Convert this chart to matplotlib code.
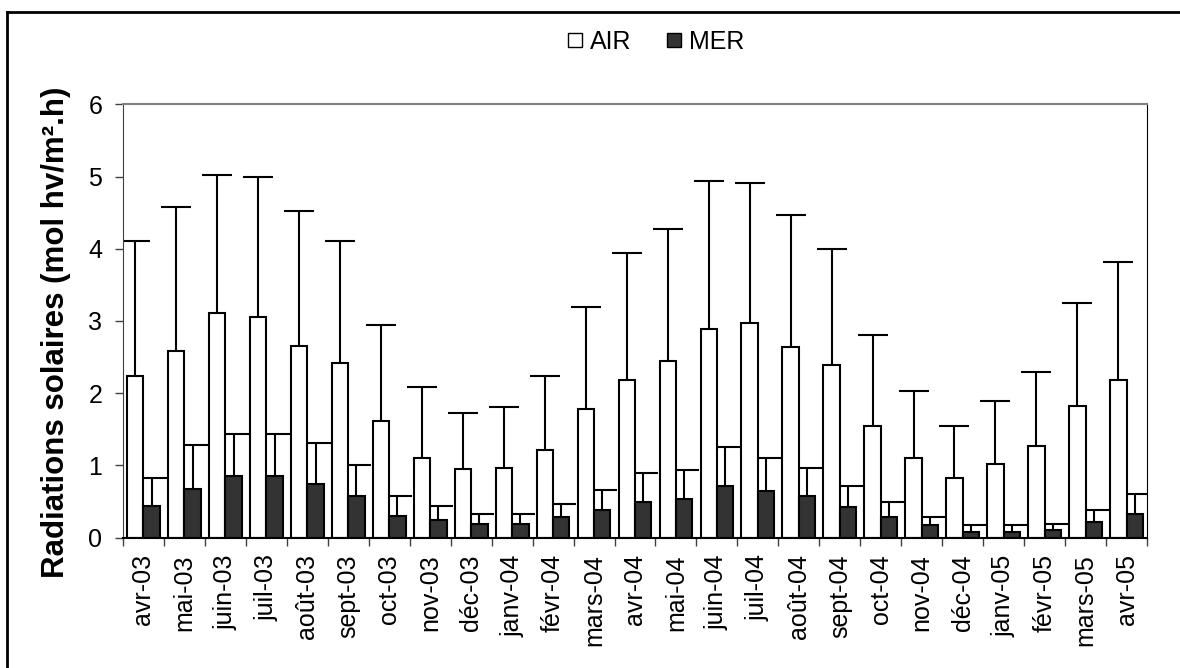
import numpy as np
import matplotlib
matplotlib.use("Agg")
import matplotlib.pyplot as plt
from matplotlib.lines import Line2D

plt.rcParams['font.family'] = ['Liberation Sans', 'DejaVu Sans']

months = ['avr-03', 'mai-03', 'juin-03', 'juil-03', 'août-03', 'sept-03',
          'oct-03', 'nov-03', 'déc-03', 'janv-04', 'févr-04', 'mars-04',
          'avr-04', 'mai-04', 'juin-04', 'juil-04', 'août-04', 'sept-04',
          'oct-04', 'nov-04', 'déc-04', 'janv-05', 'févr-05', 'mars-05',
          'avr-05']

# moyennes mensuelles et écarts-types
air_mean = [2.24, 2.59, 3.11, 3.05, 2.66, 2.42, 1.61, 1.11, 0.95, 0.97, 1.22, 1.78,
            2.19, 2.45, 2.89, 2.97, 2.64, 2.39, 1.55, 1.11, 0.83, 1.02, 1.27, 1.83,
            2.19]
air_sd = [1.87, 1.99, 1.91, 1.95, 1.86, 1.69, 1.34, 0.97, 0.77, 0.84, 1.02, 1.41,
          1.75, 1.83, 2.05, 1.94, 1.83, 1.60, 1.25, 0.92, 0.72, 0.87, 1.03, 1.42,
          1.62]
mer_mean = [0.44, 0.67, 0.86, 0.86, 0.75, 0.58, 0.30, 0.25, 0.19, 0.19, 0.28, 0.39,
            0.50, 0.53, 0.72, 0.64, 0.58, 0.42, 0.28, 0.17, 0.08, 0.08, 0.11, 0.22,
            0.33]
mer_sd = [0.39, 0.61, 0.58, 0.58, 0.56, 0.42, 0.28, 0.19, 0.14, 0.14, 0.19, 0.27,
          0.39, 0.41, 0.53, 0.47, 0.39, 0.30, 0.22, 0.11, 0.09, 0.09, 0.08, 0.16,
          0.28]

W, H = 1180, 668
fig = plt.figure(figsize=(W / 100, H / 100), dpi=100)
ax = fig.add_axes([123 / W, 1 - 537.7 / H, (1147 - 123) / W, (537.7 - 104.3) / H])

x = np.arange(len(months))
bw = 0.4


def upper_err(xpos, mean, sd):
    # écart-type vers le haut seulement, sans trait au sommet de la barre
    eb = ax.errorbar(xpos, mean, yerr=[np.zeros(len(xpos)), sd], fmt='none',
                     ecolor='black', elinewidth=1.5, capsize=10.5, capthick=1.5,
                     zorder=1)
    for cap in eb[1]:
        if np.allclose(cap.get_ydata(), mean):
            cap.set_visible(False)


ax.bar(x - bw / 2, air_mean, bw, color='white', edgecolor='black', linewidth=1.5, zorder=2)
ax.bar(x + bw / 2, mer_mean, bw, color='#333333', edgecolor='black', linewidth=1.5, zorder=2)
upper_err(x - bw / 2, air_mean, air_sd)
upper_err(x + bw / 2, mer_mean, mer_sd)

ax.set_xlim(-0.5, len(months) - 0.5)
ax.set_ylim(0, 6)
ax.set_yticks(range(7))
ax.tick_params(axis='y', labelsize=18, length=6, width=1, color='#404040', pad=9)

# graduations entre les catégories, étiquettes au centre
ax.set_xticks(np.arange(-0.5, len(months), 1.0))
ax.set_xticklabels([])
ax.set_xticks(x, minor=True)
ax.set_xticklabels(months, minor=True, rotation=90, fontsize=18, va='top')
ax.tick_params(axis='x', which='major', length=6, width=1, color='#404040')
ax.tick_params(axis='x', which='minor', length=0, pad=12)

ax.spines['left'].set_color('#404040')
ax.spines['top'].set_color('#808080')
ax.spines['top'].set_linewidth(1.5)
ax.spines['right'].set_color('black')
ax.spines['right'].set_linewidth(0.8)
ax.spines['bottom'].set_color('black')
ax.spines['bottom'].set_linewidth(1.5)

fig.text(56 / W, 1 - 332 / H, 'Radiations solaires (mol hv/m².h)', rotation=90,
         ha='center', va='center', fontsize=22.5, fontweight='bold')

handles = [Line2D([], [], ls='none', marker='s', markersize=9.5, markerfacecolor='white',
                  markeredgecolor='black', markeredgewidth=1),
           Line2D([], [], ls='none', marker='s', markersize=9.5, markerfacecolor='#333333',
                  markeredgecolor='black', markeredgewidth=1)]
fig.legend(handles, ['AIR', 'MER'], loc='center', bbox_to_anchor=(656 / W, 1 - 42 / H),
           ncol=2, frameon=False, fontsize=18, handletextpad=0.3, columnspacing=1.4,
           handlelength=0.6, borderpad=0)

# cadre extérieur
fig.add_artist(Line2D([7 / W, 7 / W], [0, 1 - 12 / H], color='black', lw=2))
fig.add_artist(Line2D([7 / W, 1], [1 - 12 / H, 1 - 12 / H], color='black', lw=2))

fig.savefig('out.png', dpi=100)
